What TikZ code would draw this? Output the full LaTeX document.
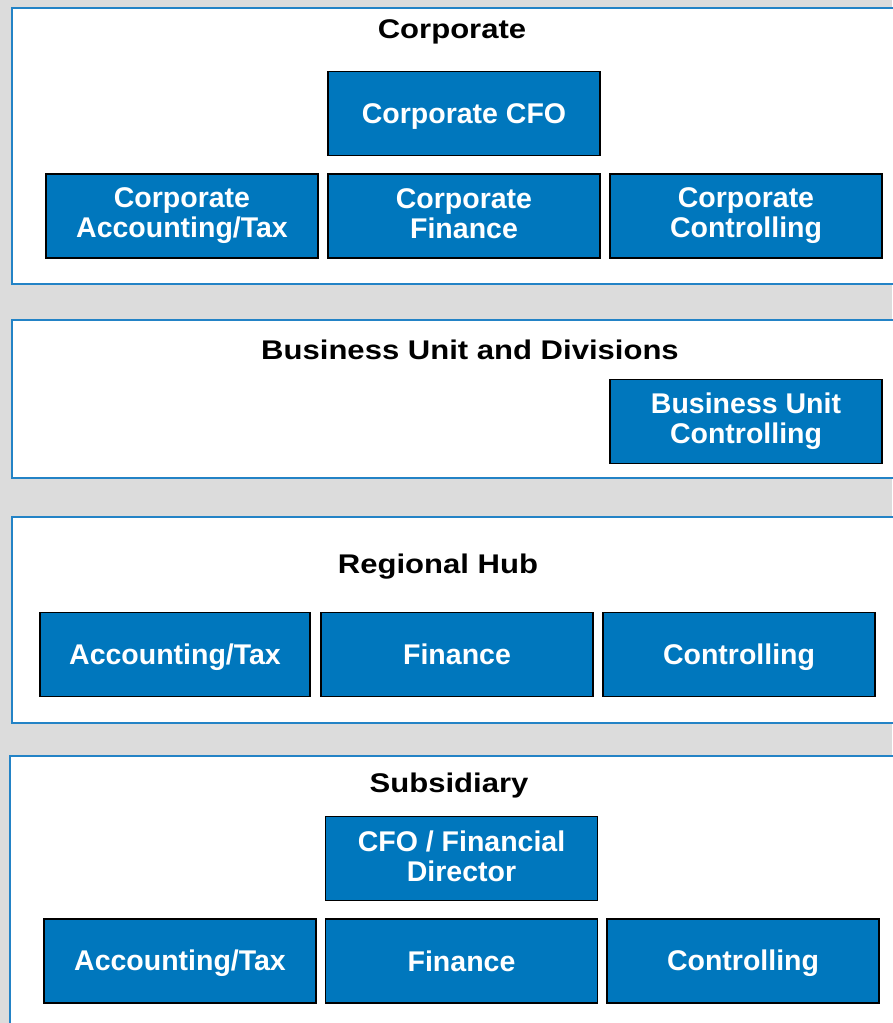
\documentclass[tikz,border=0pt]{standalone}
\usepackage{fontspec}
\setmainfont{Liberation Sans}
\newfontface\headface[FakeStretch=1.15]{Liberation Sans Bold}
\usepackage{xcolor}
\usepackage{tikz}
\usetikzlibrary{positioning}
\definecolor{BoxBlue}{HTML}{0077BD}
\definecolor{FrameBlue}{HTML}{2383C6}
\definecolor{BackGray}{HTML}{DCDCDC}
\newcommand\capstrut{\rule[-4.8pt]{0pt}{30pt}}

\begin{document}
\begin{tikzpicture}[
    x=1pt, y=-1pt,
    panel/.style={
      draw=FrameBlue, fill=white, line width=1.6pt, anchor=north west,
      minimum width=900pt, inner sep=0pt
    },
    head/.style={anchor=base, inner sep=0pt, font=\fontsize{27}{32}\headface},
    unit/.style={
      draw=black, fill=BoxBlue, text=white, line width=1.8pt,
      minimum width=272pt, minimum height=84pt, inner sep=2pt,
      align=center, font=\fontsize{28.5}{30}\selectfont\bfseries,
      execute at begin node=\capstrut, execute at end node=\capstrut
    }
  ]
    \useasboundingbox[fill=BackGray] (0,0) rectangle (892,1023);

    % level panels
    \node[panel, minimum height=276pt] (pcorp) at (11,7) {};
    \node[panel, minimum height=158pt] (pbu) at (11,319) {};
    \node[panel, minimum height=206pt] (phub) at (11,516) {};
    \node[panel, minimum height=300pt] (psub) at (9,755) {};

    % corporate
    \node[head] (tcorp) at (452,38.5) {Corporate};
    \node[unit] (ccfo) at (464,113.5) {Corporate CFO};
    \node[unit] (cacc) at (182,216) {Corporate\\Accounting/Tax};
    \node[unit] (cfin) at (464,216) {Corporate\\Finance};
    \node[unit] (cctl) at (746,216) {Corporate\\Controlling};

    % business unit
    \node[head] (tbu) at (470,359) {Business Unit and Divisions};
    \node[unit] (buctl) at (746,421.5) {Business Unit\\Controlling};

    % regional hub
    \node[head] (thub) at (438,573.5) {Regional Hub};
    \node[unit, minimum width=270pt] (hacc) at (175,654.5) {Accounting/Tax};
    \node[unit] (hfin) at (457,654.5) {Finance};
    \node[unit] (hctl) at (739,654.5) {Controlling};

    % subsidiary
    \node[head] (tsub) at (449,792.5) {Subsidiary};
    \node[unit] (scfo) at (461.5,858.5) {CFO / Financial\\Director};
    \node[unit] (sacc) at (180,961) {Accounting/Tax};
    \node[unit] (sfin) at (461.5,961) {Finance};
    \node[unit] (sctl) at (743,961) {Controlling};
  \end{tikzpicture}
\end{document}
